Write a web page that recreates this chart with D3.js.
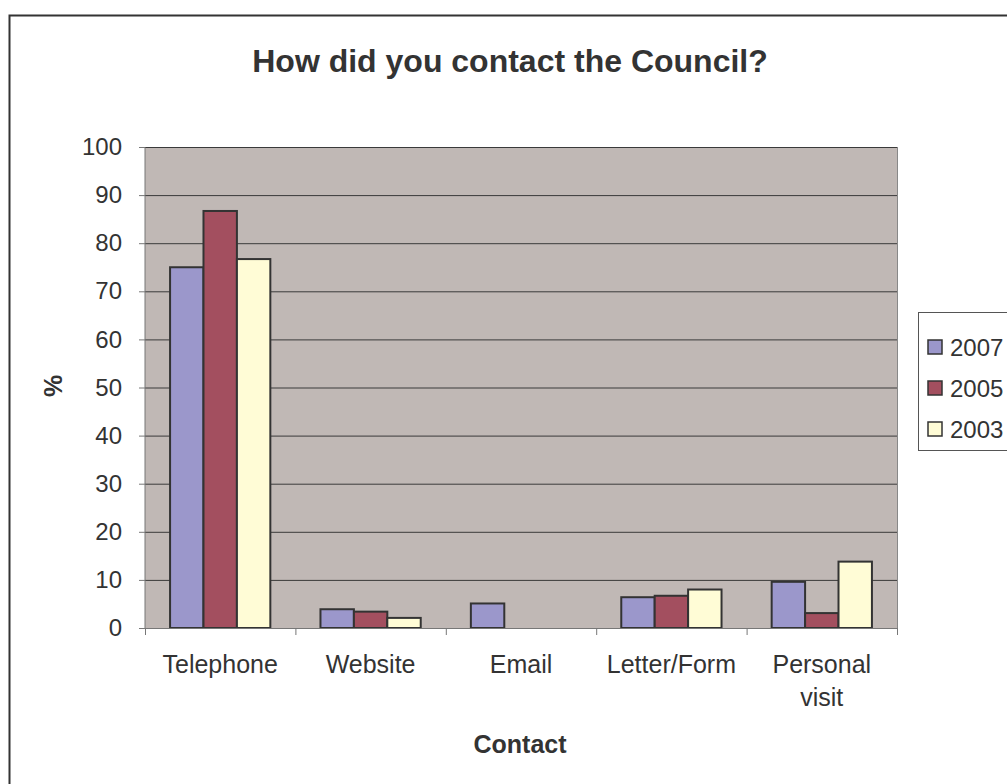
<!DOCTYPE html>
<html><head><meta charset="utf-8">
<script src="https://cdn.jsdelivr.net/npm/d3@7"></script>
<style>body{margin:0;background:#fff}svg{display:block;font-family:"Liberation Sans",Arial,sans-serif}</style>
</head><body><svg id="c" width="1007" height="784"></svg>
<script>
const categories = ["Telephone","Website","Email","Letter/Form","Personal visit"];
const seriesNames = ["2007","2005","2003"];
const v2007 = [75, 3.9, 5.1, 6.4, 9.6];
const v2005 = [86.7, 3.4, 0, 6.7, 3.1];
const v2003 = [76.7, 2.1, 0, 8.0, 13.8];
const yTicks = [0,10,20,30,40,50,60,70,80,90,100];
const colors = ["#9B97CB","#A34F5F","#FFFCD6"];
const seriesValues = [v2007, v2005, v2003];

const svg = d3.select("#c");
const L=145, R=897, T=147, B=628;
const txt="#333";

svg.append("rect").attr("x",9.5).attr("y",15.5).attr("width",1010).attr("height",800)
  .attr("fill","#fff").attr("stroke","#333").attr("stroke-width",2);

const xc = d3.scaleBand().domain(categories).range([L,R]).padding(0);
const xs = d3.scaleBand().domain(seriesNames).range([0, xc.bandwidth()]).paddingInner(0).paddingOuter(0.75);
const y = d3.scaleLinear().domain([0,100]).range([B,T]);

svg.append("rect").attr("x",L).attr("y",T).attr("width",R-L).attr("height",B-T).attr("fill","#C0B8B5");
svg.append("g").selectAll("line").data(yTicks.filter(d=>d>0)).join("line")
  .attr("x1",L).attr("x2",R).attr("y1",d=>y(d)+0.5).attr("y2",d=>y(d)+0.5)
  .attr("stroke","#3a3a3a").attr("stroke-width",1);
svg.append("line").attr("x1",R+0.5).attr("x2",R+0.5).attr("y1",T).attr("y2",B).attr("stroke","#888");

seriesNames.forEach((s,i)=>{
  svg.append("g").selectAll("rect").data(categories).join("rect")
    .attr("x",(c)=>xc(c)+xs(s))
    .attr("y",(c,j)=>y(seriesValues[i][j]))
    .attr("width",xs.bandwidth())
    .attr("height",(c,j)=>B-y(seriesValues[i][j]))
    .attr("fill",colors[i]).attr("stroke","#333").attr("stroke-width",2)
    .attr("display",(c,j)=>seriesValues[i][j]>0?null:"none");
});

const ya = d3.axisLeft(y).tickValues(yTicks).tickSize(6).tickPadding(17);
const yg = svg.append("g").attr("transform",`translate(${L},0)`).call(ya);
yg.select(".domain").attr("stroke","#777").attr("d",`M0,${T}V${B}`);
yg.selectAll(".tick line").attr("stroke","#777");
yg.selectAll("text").attr("font-size",24).attr("fill",txt).attr("font-family","Liberation Sans, Arial, sans-serif");

const xg = svg.append("g").attr("transform",`translate(0,${B})`);
xg.append("line").attr("x1",L).attr("x2",R).attr("y1",0.5).attr("y2",0.5).attr("stroke","#777");
const bounds = categories.map(c=>xc(c)).concat([R]);
xg.selectAll("line.t").data(bounds).join("line").attr("class","t")
  .attr("x1",d=>d+0.5).attr("x2",d=>d+0.5).attr("y1",0).attr("y2",7).attr("stroke","#777");
const lab = xg.selectAll("text").data(categories).join("text")
  .attr("x",c=>xc(c)+xc.bandwidth()/2).attr("y",45)
  .attr("text-anchor","middle").attr("font-size",25).attr("fill",txt);
lab.each(function(c){
  const parts = c==="Personal visit"?["Personal","visit"]:[c];
  d3.select(this).selectAll("tspan").data(parts).join("tspan")
    .attr("x",xc(c)+xc.bandwidth()/2).attr("dy",(d,k)=>k?33:0).text(d=>d);
});

svg.append("text").attr("x",510).attr("y",72).attr("text-anchor","middle")
  .attr("font-size",32).attr("font-weight","bold").attr("fill",txt).text("How did you contact the Council?");
svg.append("text").attr("x",520).attr("y",753).attr("text-anchor","middle")
  .attr("font-size",25).attr("font-weight","bold").attr("fill",txt).text("Contact");
svg.append("text").attr("transform","translate(62,386) rotate(-90)").attr("text-anchor","middle")
  .attr("font-size",25).attr("font-weight","bold").attr("fill",txt).text("%");

const lg = svg.append("g");
lg.append("rect").attr("x",918.5).attr("y",312.5).attr("width",120).attr("height",138)
  .attr("fill","#fff").attr("stroke","#555").attr("stroke-width",1);
seriesNames.forEach((s,i)=>{
  const yy = 347 + i*41;
  lg.append("rect").attr("x",928).attr("y",yy-7).attr("width",14).attr("height",14)
    .attr("fill",colors[i]).attr("stroke","#333").attr("stroke-width",1.5);
  lg.append("text").attr("x",950).attr("y",yy+8.5).attr("font-size",24).attr("fill",txt).text(s);
});
</script></body></html>
